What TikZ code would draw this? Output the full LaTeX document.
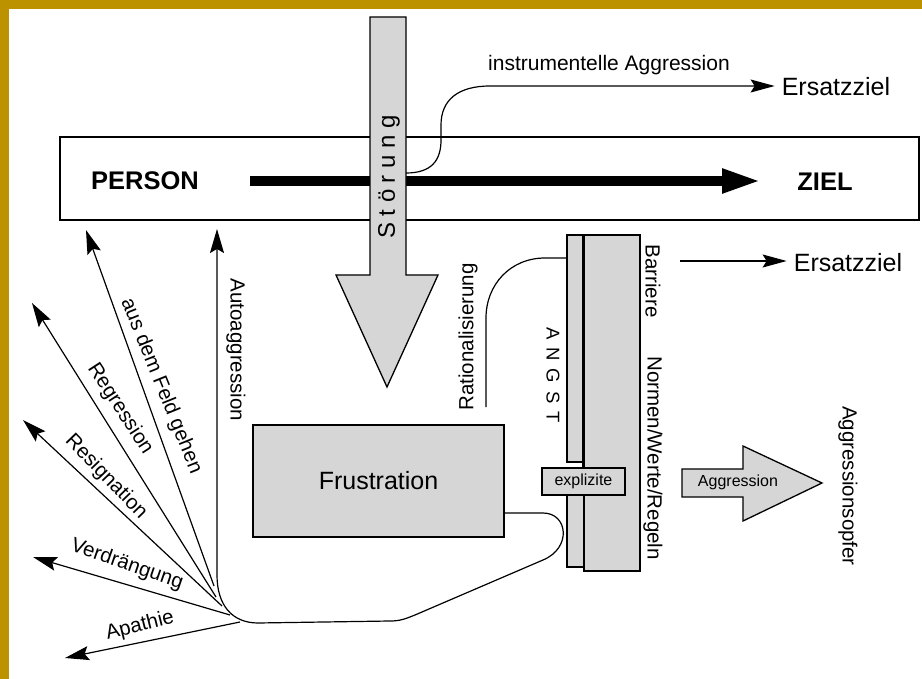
\documentclass[tikz,border=0pt]{standalone}
\usepackage{fontspec}
\setmainfont{Liberation Sans}
\usetikzlibrary{arrows.meta}
\definecolor{gold}{RGB}{188,146,0}
\definecolor{dotfill}{RGB}{214,214,214}
\begin{document}
\begin{tikzpicture}[x=1pt,y=-1pt,
  lbl/.style={font=\fontsize{20.5}{24}\selectfont, inner sep=0pt},
  boldlbl/.style={font=\fontsize{25.5}{30}\selectfont\bfseries, inner sep=0pt},
  biglbl/.style={font=\fontsize{25}{30}\selectfont, inner sep=0pt},
  smalllbl/.style={font=\fontsize{16}{18}\selectfont, inner sep=0pt},
  shade/.style={draw=black, line width=1.3pt, fill=dotfill},
  thinline/.style={line width=1.2pt},
  arr/.style={thinline, -{Stealth[length=24pt,width=14pt,inset=4pt]}},
  arrsmall/.style={thinline, -{Stealth[length=24pt,width=13pt,inset=4pt]}},
]
\useasboundingbox (0,0) rectangle (922,679);
\fill[white] (0,0) rectangle (922,679);
\fill[gold] (0,0) rectangle (922,9);
\fill[gold] (0,0) rectangle (9,679);

% PERSON box
\draw[line width=1.5pt] (60,137) rectangle (919,220);
\node[boldlbl] (person) at (145,181) {PERSON};
\node[boldlbl] (ziel) at (825,182) {ZIEL};
\coordinate (ts) at (250,181);
\coordinate (te) at (762,181);
\draw[line width=10pt, -{Triangle[length=40pt,width=22pt]}] (ts) -- (te);

% Stoerung arrow
\draw[shade] (370,17) -- (406,17) -- (406,275) -- (438,275) -- (387,387) -- (336,275) -- (370,275) -- cycle;
\node[font=\fontsize{24}{28}\selectfont, inner sep=0pt, rotate=90] (stoer) at (389,177)
  {S\kern6.5pt t\kern6.5pt ö\kern6.5pt r\kern6.5pt u\kern6.5pt n\kern6.5pt g};

% instrumentelle Aggression
\coordinate (ia0) at (406,173);
\node[biglbl] (ers1) at (836,87) {Ersatzziel};
\node[lbl, font=\fontsize{21}{24}\selectfont] (instr) at (609,65) {instrumentelle Aggression};
\draw[arrsmall] (ia0) .. controls (432,173) and (441,160) .. (441,140) -- (441,125)
  .. controls (441,100) and (458,86) .. (490,86) -- ([xshift=-7pt]ers1.west |- 0,86);

% lower Ersatzziel
\node[biglbl] (ers2) at (848,263) {Ersatzziel};
\coordinate (e2s) at (680,261);
\draw[arrsmall] (e2s) -- ([xshift=-7pt]ers2.west |- 0,261);

% Barrier assembly
\draw[shade] (567,490) rectangle (584,567);
\draw[shade] (584,235) rectangle (640,571);
\draw[shade] (567,235) rectangle (584,462);
\draw[line width=3pt] (583,236) -- (583,472);
\node[shade, smalllbl, minimum width=83pt, minimum height=27pt] (expl) at (583.5,481.5) {explizite};
\node[font=\fontsize{18.5}{22}\selectfont, inner sep=0pt, rotate=-90] (angst) at (553,375)
  {A\kern8pt N\kern8pt G\kern8pt S\kern8pt T};
\node[lbl, rotate=-90] (barr) at (653,281) {Barriere};
\node[lbl, rotate=-90] (normen) at (653,458) {Normen/Werte/Regeln};

% Rationalisierung
\coordinate (ra0) at (567,258);
\coordinate (ra1) at (486,407);
\draw[thinline] (ra0) -- (545,258) .. controls (510,258) and (486,285) .. (486,318) -- (ra1);
\node[lbl, rotate=90] (ratio) at (468,337) {Rationalisierung};

% Frustration
\node[shade, biglbl, minimum width=251pt, minimum height=112pt] (frus) at (378.5,481) {Frustration};

% loop to Autoaggression
\coordinate (lp0) at (504,513);
\coordinate (autotip) at (217,229);
\draw[arr] (lp0) -- (543,513) .. controls (568,513) and (572,548) .. (543,560) -- (415,615)
  .. controls (405,619) and (400,621) .. (390,621) -- (258,623)
  .. controls (232,623) and (217,605) .. (217,575) -- (autotip);
\node[lbl, rotate=-90] (auto) at (236,350) {Autoaggression};

% fan arrows
\coordinate (fs1) at (214,586); \coordinate (ft1) at (86,230);
\coordinate (fs2) at (216,597); \coordinate (ft2) at (32,303);
\coordinate (fs3) at (222,606); \coordinate (ft3) at (23,420);
\coordinate (fs4) at (230,615); \coordinate (ft4) at (33,557);
\coordinate (fs5) at (240,622); \coordinate (ft5) at (65,658);
\draw[arr] (fs1) -- (ft1);
\draw[arr] (fs2) -- (ft2);
\draw[arr] (fs3) -- (ft3);
\draw[arr] (fs4) -- (ft4);
\draw[arr] (fs5) -- (ft5);
\node[lbl, rotate=-68] (feld) at (161,386) {aus dem Feld gehen};
\node[lbl, rotate=-57] (regr) at (120,409) {Regression};
\node[lbl, rotate=-46] (resig) at (106,477) {Resignation};
\node[lbl, rotate=-19] (verdr) at (127,565) {Verdrängung};
\node[lbl, rotate=14] (apat) at (140,626) {Apathie};

% Aggression arrow
\draw[shade] (682,469) -- (743,469) -- (743,446) -- (822,483) -- (743,521) -- (743,497) -- (682,497) -- cycle;
\node[smalllbl] (aggr) at (738,482) {Aggression};
\node[lbl, rotate=-90] (opfer) at (848,486) {Aggressionsopfer};
\end{tikzpicture}
\end{document}
